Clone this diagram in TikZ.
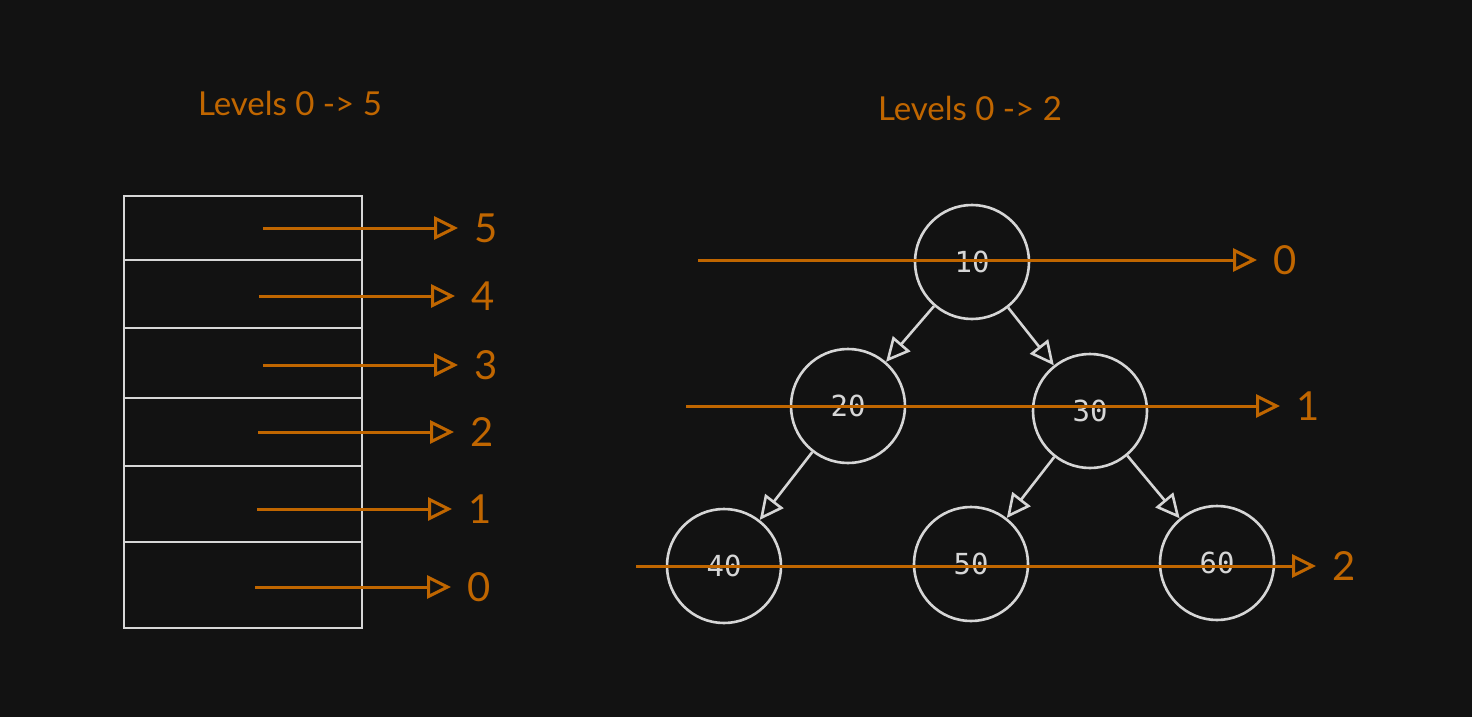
\documentclass[tikz,border=0pt]{standalone}
\usepackage{fontspec}
\setmainfont{Lato}
\newfontfamily\numfont{DejaVu Sans Mono}
\usepackage{xcolor}
\usetikzlibrary{arrows.meta}

\definecolor{bgdark}{HTML}{121212}
\definecolor{lvlorange}{HTML}{C06600}
\definecolor{edgegrey}{HTML}{D6D6D6}

\begin{document}
\begin{tikzpicture}[x=0.5pt,y=-0.5pt,
	>={Triangle[open,length=12pt,width=11.5pt]}]


	\tikzstyle{state}=[circle,draw=edgegrey,line width=1.3pt,minimum size=57pt,inner sep=0pt,text=edgegrey,font=\numfont\fontsize{14.5}{14.5}\selectfont]
	\tikzstyle{lvl}=[anchor=west,inner xsep=8pt,inner ysep=0pt,text=lvlorange,font=\fontsize{20}{20}\selectfont]
	\tikzstyle{title}=[text=lvlorange,font=\fontsize{16.5}{16.5}\selectfont]
	\tikzstyle{levelline}=[->,draw=lvlorange,line width=1.5pt]
	\tikzstyle{edge}=[->,draw=edgegrey,line width=1.3pt]

	\fill[bgdark] (0,0) rectangle (1472,717);
	\useasboundingbox (0,0) rectangle (1472,717);

	% stack of levels
	\begin{scope}
	\node[title] (t1) at (290,103) {Levels 0 -> 5};
	\draw[edgegrey,line width=1.3pt] (124,196) rectangle (362,628);
	\foreach \y in {260,328,398,466,542}
		\draw[edgegrey,line width=1.3pt] (124,\y) -- (362,\y);
	\foreach \n/\xa/\xb/\y in {5/263/458/228,4/259/455/296,3/263/458/365,2/258/454/432,1/257/452/509,0/255/451/587}{
		\coordinate (s\n) at (\xa,\y);
		\node[lvl] (l\n) at (\xb,\y) {\n};
		\draw[levelline] (s\n) -- (l\n);
	}
	\end{scope}

	% tree
	\begin{scope}
	\node[title] (t2) at (970,108) {Levels 0 -> 2};
	\node[state] (n10) at (972,262) {10};
	\node[state] (n20) at (848,406) {20};
	\node[state] (n30) at (1090,411) {30};
	\node[state] (n40) at (724,566) {40};
	\node[state] (n50) at (971,564) {50};
	\node[state] (n60) at (1217,563) {60};
	\draw[edge] (n10) -- (n20);
	\draw[edge] (n10) -- (n30);
	\draw[edge] (n20) -- (n40);
	\draw[edge] (n30) -- (n50);
	\draw[edge] (n30) -- (n60);
	\foreach \n/\xa/\xb/\y in {0/698/1257/260,1/686/1280/406,2/636/1316/566}{
		\coordinate (r\n) at (\xa,\y);
		\node[lvl] (m\n) at (\xb,\y) {\n};
		\draw[levelline] (r\n) -- (m\n);
	}
	\end{scope}

\end{tikzpicture}
\end{document}
